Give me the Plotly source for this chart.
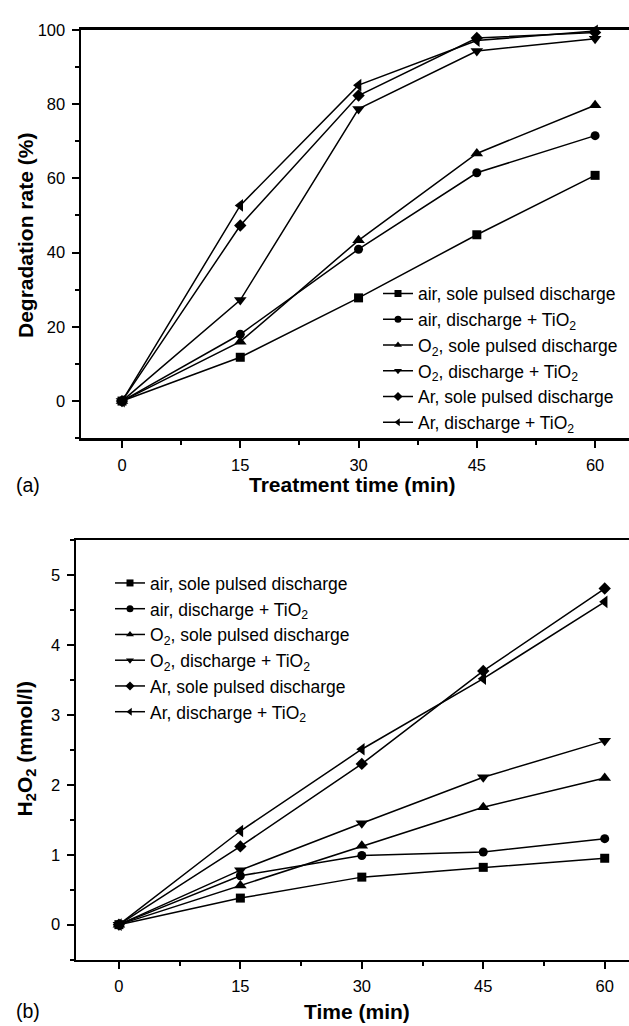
import plotly.graph_objects as go

time_min = [0, 15, 30, 45, 60]

series_names = [
    "air, sole pulsed discharge",
    "air, discharge + TiO<sub>2</sub>",
    "O<sub>2</sub>, sole pulsed discharge",
    "O<sub>2</sub>, discharge + TiO<sub>2</sub>",
    "Ar, sole pulsed discharge",
    "Ar, discharge + TiO<sub>2</sub>",
]
series_symbols = ["square", "circle", "triangle-up", "triangle-down", "diamond", "triangle-left"]

# (a) Degradation rate (%)
deg_air_sole = [0, 11.8, 27.8, 44.8, 60.8]
deg_air_tio2 = [0, 18.0, 40.9, 61.5, 71.5]
deg_o2_sole = [0, 16.0, 43.3, 66.7, 79.7]
deg_o2_tio2 = [0, 27.2, 78.7, 94.3, 97.6]
deg_ar_sole = [0, 47.3, 82.3, 97.8, 99.3]
deg_ar_tio2 = [0, 52.7, 85.1, 97.1, 99.7]

# (b) H2O2 (mmol/l)
h2o2_air_sole = [0, 0.38, 0.68, 0.82, 0.95]
h2o2_air_tio2 = [0, 0.70, 0.99, 1.04, 1.23]
h2o2_o2_sole = [0, 0.56, 1.13, 1.68, 2.10]
h2o2_o2_tio2 = [0, 0.78, 1.45, 2.11, 2.63]
h2o2_ar_sole = [0, 1.12, 2.30, 3.63, 4.81]
h2o2_ar_tio2 = [0, 1.34, 2.51, 3.52, 4.62]

deg_series = [deg_air_sole, deg_air_tio2, deg_o2_sole, deg_o2_tio2, deg_ar_sole, deg_ar_tio2]
h2o2_series = [h2o2_air_sole, h2o2_air_tio2, h2o2_o2_sole, h2o2_o2_tio2, h2o2_ar_sole, h2o2_ar_tio2]

W, H = 629, 1026
FONT = "Liberation Sans, Arial, Helvetica, sans-serif"
MSIZE = {"square": 9, "circle": 9, "triangle-up": 11, "triangle-down": 11,
         "diamond": 9.5, "triangle-left": 11}

fig = go.Figure()

def add_panel(data, xa, xtop, ya, legend_name):
    for sym, ys in zip(series_symbols, data):
        fig.add_trace(go.Scatter(
            x=time_min, y=ys, mode="lines+markers",
            line=dict(color="black", width=1.5),
            marker=dict(symbol=sym, size=MSIZE[sym], color="black"),
            xaxis=xa, yaxis=ya, showlegend=False, cliponaxis=False,
        ))
    for i, (name, sym) in enumerate(zip(series_names, series_symbols)):
        fig.add_trace(go.Scatter(
            x=[None], y=[None], mode="lines+markers", name=name,
            line=dict(color="black", width=1.5),
            marker=dict(symbol=sym, size=7, color="black"),
            xaxis=xtop, yaxis=ya, legend=legend_name,
        ))

add_panel(deg_series, "x", "x3", "y", "legend")
add_panel(h2o2_series, "x2", "x4", "y2", "legend2")

axis_common = dict(
    showline=True, linecolor="black", linewidth=2.5,
    ticks="outside", ticklen=7, tickwidth=2, tickcolor="black",
    showgrid=False, zeroline=False, ticklabelstandoff=3,
    tickfont=dict(family=FONT, size=16.5, color="black"),
)
top_common = dict(side="top", showline=True, linecolor="black", linewidth=2.5,
                  ticks="", showticklabels=False, showgrid=False, zeroline=False)

def px_y(top, bottom):
    return [1 - bottom / H, 1 - top / H]

def minor(d):
    return dict(dtick=d, tick0=0, ticklen=4, tickwidth=2, ticks="outside", tickcolor="black")

X1_RANGE = [-5.2, 64.3]
X2_RANGE = [-5.3, 63.0]

fig.update_layout(
    width=W, height=H,
    margin=dict(l=0, r=0, t=0, b=0),
    paper_bgcolor="white", plot_bgcolor="white",
    font=dict(family=FONT, color="black"),
    xaxis=dict(domain=[81 / W, 1], range=X1_RANGE, tickvals=time_min, anchor="y",
               minor=minor(7.5), **axis_common),
    xaxis3=dict(overlaying="x", anchor="y", range=X1_RANGE, **top_common),
    yaxis=dict(domain=px_y(21, 433), range=[-10, 100], dtick=20, tick0=0, anchor="x",
               minor=minor(10), **axis_common),
    xaxis2=dict(domain=[76 / W, 1], range=X2_RANGE, tickvals=time_min, anchor="y2",
                minor=minor(7.5), **axis_common),
    xaxis4=dict(overlaying="x2", anchor="y2", range=X2_RANGE, **top_common),
    yaxis2=dict(domain=px_y(536, 959), range=[-0.5, 5.5], dtick=1, tick0=0, anchor="x2",
                minor=minor(0.5), **axis_common),
    legend=dict(x=378 / W, y=1 - 269 / H, xanchor="left", yanchor="top",
                bgcolor="rgba(0,0,0,0)", borderwidth=0, itemwidth=30,
                font=dict(family=FONT, size=17.5, color="black")),
    legend2=dict(x=110 / W, y=1 - 561 / H, xanchor="left", yanchor="top",
                 bgcolor="rgba(0,0,0,0)", borderwidth=0, itemwidth=30,
                 font=dict(family=FONT, size=17.5, color="black")),
)

ann = []
def text(x, y, s, size, bold=False, angle=0, xanchor="center"):
    ann.append(dict(x=x / W, y=1 - y / H, xref="paper", yref="paper",
                    text=("<b>%s</b>" % s) if bold else s,
                    showarrow=False, textangle=angle, xanchor=xanchor, yanchor="middle",
                    font=dict(family=FONT, size=size, color="black")))

text(352, 480, "Treatment time (min)", 21, bold=True)
text(26, 229, "Degradation rate (%)", 21, bold=True, angle=-90)
text(14, 480, "(a)", 19.5, xanchor="left")
text(357, 1011, "Time (min)", 21, bold=True)
text(26, 747, "H<sub>2</sub>O<sub>2</sub> (mmol/l)", 21, bold=True, angle=-90)
text(14, 1011, "(b)", 19.5, xanchor="left")
fig.update_layout(annotations=ann)

fig.write_html("out.html", config={"staticPlot": True})
